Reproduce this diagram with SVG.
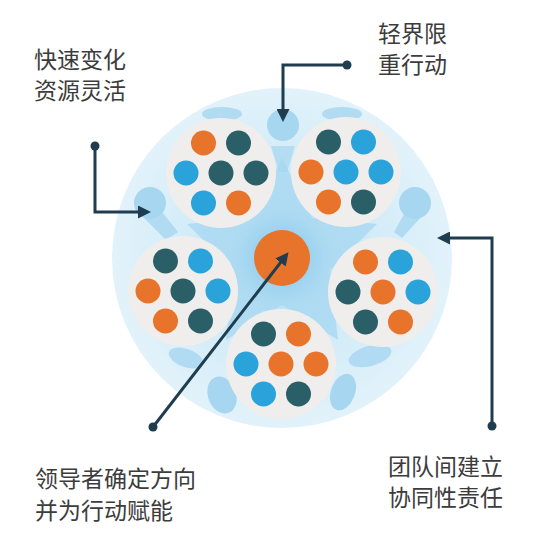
<svg xmlns="http://www.w3.org/2000/svg" width="555" height="538" viewBox="0 0 555 538">
<defs>
<style>
.lbl{font-family:"Noto Sans CJK SC","Noto Sans",sans-serif;font-size:23px;fill:#3c3c3c}
.pod{fill:#EFEEEC}
.o{fill:#E8732A}
.d{fill:#2B5F68}
.b{fill:#2AA2DA}
.fig{fill:#A6D6F0}
.conn{fill:none;stroke:#1F3D4E;stroke-width:3}
.dot{fill:#1F3D4E}
</style>
<radialGradient id="bg" cx="0.5" cy="0.5" r="0.5">
<stop offset="0" stop-color="#B4DEF4"/>
<stop offset="0.55" stop-color="#D2ECF8"/>
<stop offset="1" stop-color="#E2F2FA"/>
</radialGradient>
<radialGradient id="glow" cx="0.5" cy="0.5" r="0.5">
<stop offset="0" stop-color="#6FBDE6"/>
<stop offset="1" stop-color="#A9D8F1" stop-opacity="0"/>
</radialGradient>
<marker id="ah" markerUnits="userSpaceOnUse" markerWidth="13" markerHeight="13" refX="4" refY="6.5" orient="auto">
<path d="M0,0 L13,6.5 L0,13 z" fill="#1F3D4E"/>
</marker>
</defs>
<rect width="555" height="538" fill="#FFFFFF"/>

<g id="background">
<circle cx="282" cy="258" r="170" fill="url(#bg)"/>
<polygon points="282,158 312,218 377,224 330,270 338,340 282,305 226,340 234,270 187,224 252,218" fill="#A9D8F1" opacity="0.8"/>
<circle cx="282" cy="258" r="55" fill="url(#glow)"/>
</g>

<g id="figures">
<circle class="fig" cx="283" cy="125" r="16"/>
<path class="fig" d="M271,146 L295,146 L287,172 L279,172 z" opacity="0.7"/>
<circle class="fig" cx="150" cy="203" r="16"/>
<path class="fig" d="M140,214 L162,212 L178,232 L166,240 z" opacity="0.8"/>
<circle class="fig" cx="415" cy="203" r="16"/>
<path class="fig" d="M404,214 L424,214 L402,238 L394,232 z" opacity="0.8"/>
<ellipse class="fig" cx="222" cy="395" rx="14" ry="19" transform="rotate(-20 222 395)"/>
<ellipse class="fig" cx="186" cy="358" rx="18" ry="9" transform="rotate(20 186 358)" opacity="0.8"/>
<ellipse class="fig" cx="343" cy="392" rx="12" ry="19" transform="rotate(20 343 392)"/>
<ellipse class="fig" cx="370" cy="356" rx="22" ry="10" transform="rotate(-15 370 356)" opacity="0.8"/>
<ellipse class="fig" cx="222" cy="114" rx="20" ry="7" opacity="0.8"/>
<ellipse class="fig" cx="342" cy="114" rx="20" ry="7" opacity="0.8"/>
</g>

<g id="team-top-left" transform="translate(221,173)">
<circle class="pod" r="55"/>
<circle class="o" cx="-17.5" cy="-30" r="12.5"/><circle class="d" cx="17.5" cy="-30" r="12.5"/>
<circle class="b" cx="-35" cy="0" r="12.5"/><circle class="d" cx="0" cy="0" r="12.5"/><circle class="d" cx="35" cy="0" r="12.5"/>
<circle class="b" cx="-17.5" cy="30" r="12.5"/><circle class="o" cx="17.5" cy="30" r="12.5"/>
</g>
<g id="team-top-right" transform="translate(346,172)">
<circle class="pod" r="55"/>
<circle class="d" cx="-17.5" cy="-30" r="12.5"/><circle class="b" cx="17.5" cy="-30" r="12.5"/>
<circle class="o" cx="-35" cy="0" r="12.5"/><circle class="b" cx="0" cy="0" r="12.5"/><circle class="b" cx="35" cy="0" r="12.5"/>
<circle class="o" cx="-17.5" cy="30" r="12.5"/><circle class="d" cx="17.5" cy="30" r="12.5"/>
</g>
<g id="team-left" transform="translate(183,291)">
<circle class="pod" r="55"/>
<circle class="d" cx="-17.5" cy="-30" r="12.5"/><circle class="b" cx="17.5" cy="-30" r="12.5"/>
<circle class="o" cx="-35" cy="0" r="12.5"/><circle class="d" cx="0" cy="0" r="12.5"/><circle class="b" cx="35" cy="0" r="12.5"/>
<circle class="o" cx="-17.5" cy="30" r="12.5"/><circle class="d" cx="17.5" cy="30" r="12.5"/>
</g>
<g id="team-right" transform="translate(383,292)">
<circle class="pod" r="55"/>
<circle class="o" cx="-17.5" cy="-30" r="12.5"/><circle class="b" cx="17.5" cy="-30" r="12.5"/>
<circle class="d" cx="-35" cy="0" r="12.5"/><circle class="o" cx="0" cy="0" r="12.5"/><circle class="b" cx="35" cy="0" r="12.5"/>
<circle class="d" cx="-17.5" cy="30" r="12.5"/><circle class="o" cx="17.5" cy="30" r="12.5"/>
</g>
<g id="team-bottom" transform="translate(281,364)">
<circle class="pod" r="55"/>
<circle class="d" cx="-17.5" cy="-30" r="12.5"/><circle class="o" cx="17.5" cy="-30" r="12.5"/>
<circle class="b" cx="-35" cy="0" r="12.5"/><circle class="o" cx="0" cy="0" r="12.5"/><circle class="o" cx="35" cy="0" r="12.5"/>
<circle class="b" cx="-17.5" cy="30" r="12.5"/><circle class="d" cx="17.5" cy="30" r="12.5"/>
</g>

<g id="leader">
<circle cx="282" cy="258" r="28" fill="#E8732A"/>
</g>

<g id="connectors">
<path class="conn" d="M347,65 H283 V113" marker-end="url(#ah)"/>
<circle class="dot" cx="347" cy="65" r="4.5"/>
<path class="conn" d="M95,146 V212 H142" marker-end="url(#ah)"/>
<circle class="dot" cx="95" cy="146" r="4.5"/>
<path class="conn" d="M492,426 V238 H446" marker-end="url(#ah)"/>
<circle class="dot" cx="492" cy="426" r="4.5"/>
<path class="conn" d="M153,427 L283,259.3" marker-end="url(#ah)"/>
<circle class="dot" cx="153" cy="427" r="4.5"/>
</g>

<g id="labels">
<text class="lbl" x="34" y="68">快速变化</text>
<text class="lbl" x="34" y="99">资源灵活</text>
<text class="lbl" x="378" y="42">轻界限</text>
<text class="lbl" x="378" y="73">重行动</text>
<text class="lbl" x="35" y="487">领导者确定方向</text>
<text class="lbl" x="35" y="519">并为行动赋能</text>
<text class="lbl" x="388" y="475">团队间建立</text>
<text class="lbl" x="388" y="506">协同性责任</text>
</g>
</svg>
